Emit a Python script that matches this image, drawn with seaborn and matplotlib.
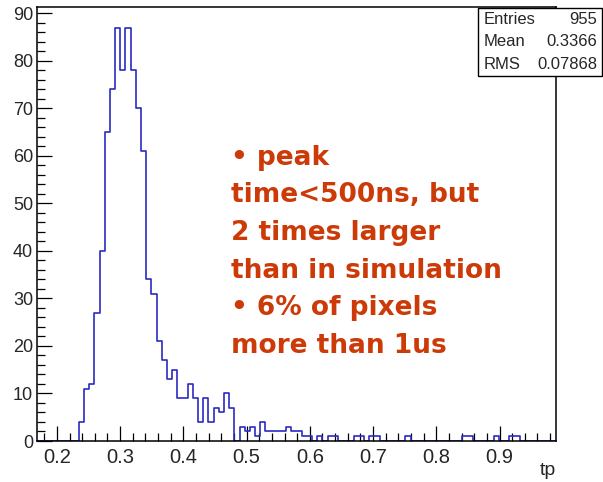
import matplotlib
matplotlib.use("Agg")
import matplotlib.pyplot as plt
from matplotlib.ticker import MultipleLocator, FormatStrFormatter
from matplotlib.patches import Rectangle
import numpy as np
import pandas as pd
import seaborn as sns

# histogram binning of tp
n_bins = 100
x_low = 0.169
x_high = 0.989

# bin contents, in bin order starting at x_low
counts = [
    0, 0, 0, 0, 0, 0, 0, 0,
    4, 11, 12, 27, 40, 65, 74, 87, 78, 87,
    78, 70, 61, 34, 31, 21, 17, 13, 15, 9,
    9, 12, 9, 4, 9, 4, 7, 6, 10, 7,
    0, 3, 2, 3, 1, 4, 2, 2, 2, 2,
    3, 2, 2, 1, 1, 0, 1, 0, 1, 1,
    0, 0, 0, 1, 1, 0, 1, 1, 0, 0,
    0, 0, 0, 1, 0, 0, 0, 0, 0, 0,
    0, 0, 0, 0, 1, 1, 0, 0, 0, 0,
    1, 0, 0, 1, 1, 0, 0, 0, 0, 0,
    0, 0,
]

# statistics box
stat_names = ["Entries", "Mean", "RMS"]
stat_values = ["955", "0.3366", "0.07868"]

# annotation
note_lines = [
    "\u2022 peak",
    "time<500ns, but",
    "2 times larger",
    "than in simulation",
    "\u2022 6% of pixels",
    "more than 1us",
]

x_label = "tp"

sns.set_theme(style="white")
plt.rcParams["font.family"] = ["Liberation Sans", "DejaVu Sans"]

W, H = 603, 482
fig = plt.figure(figsize=(W / 100, H / 100), dpi=100)
fig.patch.set_facecolor("white")

ax_l, ax_r, ax_t, ax_b = 37.3, 555.8, 7.0, 441.0
ax = fig.add_axes([ax_l / W, 1 - ax_b / H, (ax_r - ax_l) / W, (ax_b - ax_t) / H])
ax.set_facecolor("white")

edges = np.linspace(x_low, x_high, n_bins + 1)
centers = 0.5 * (edges[:-1] + edges[1:])
hist_df = pd.DataFrame({"tp": centers, "entries": counts})

sns.histplot(data=hist_df, x="tp", weights="entries", bins=n_bins,
             binrange=(x_low, x_high), element="step",
             fill=False, color="#2b2bc4", linewidth=1.2, ax=ax)

ax.set_xlim(x_low, x_high)
ax.set_ylim(0, 1.05 * max(counts))
ax.set_ylabel("")

ax.xaxis.set_major_locator(MultipleLocator(0.1))
ax.xaxis.set_minor_locator(MultipleLocator(0.02))
ax.yaxis.set_major_locator(MultipleLocator(10))
ax.yaxis.set_minor_locator(MultipleLocator(2))
ax.xaxis.set_major_formatter(FormatStrFormatter("%.1f"))
ax.yaxis.set_major_formatter(FormatStrFormatter("%d"))

ax.tick_params(which="both", direction="in", top=False, right=False,
               bottom=True, left=True, color="black", width=0.9)
ax.tick_params(which="major", length=10.5)
ax.tick_params(which="minor", length=5.5)
ax.tick_params(axis="x", which="major", labelsize=14.5, pad=5)
ax.tick_params(axis="y", which="major", labelsize=13, pad=3)

for s in ax.spines.values():
    s.set_color("black")
    s.set_linewidth(1.1)

ax.set_xlabel(x_label, fontsize=14, loc="right")
ax.xaxis.set_label_coords(1.0, (ax_b - 462) / (ax_b - ax_t))

# statistics box in the upper-right corner
bx0, by0, bx1, by1 = 477.5, 8.0, 602.0, 75.5
fig.patches.append(Rectangle((bx0 / W, 1 - by1 / H), (bx1 - bx0) / W, (by1 - by0) / H,
                             transform=fig.transFigure, facecolor="white",
                             edgecolor="black", linewidth=1.0, zorder=5))
row_y = [19.5, 42.0, 64.5]
for name, val, yy in zip(stat_names, stat_values, row_y):
    fig.text(484 / W, 1 - yy / H, name, ha="left", va="center", fontsize=12, zorder=6)
    fig.text(597 / W, 1 - yy / H, val, ha="right", va="center", fontsize=12, zorder=6)

# annotation text
base_y = [165, 202, 240, 278, 315, 353]
for line, yy in zip(note_lines, base_y):
    fig.text(231 / W, 1 - yy / H, line, ha="left", va="baseline", fontsize=19,
             fontweight="bold", color="#cc3a08", family=["DejaVu Sans"])

fig.savefig("out.png", dpi=100, facecolor="white")
